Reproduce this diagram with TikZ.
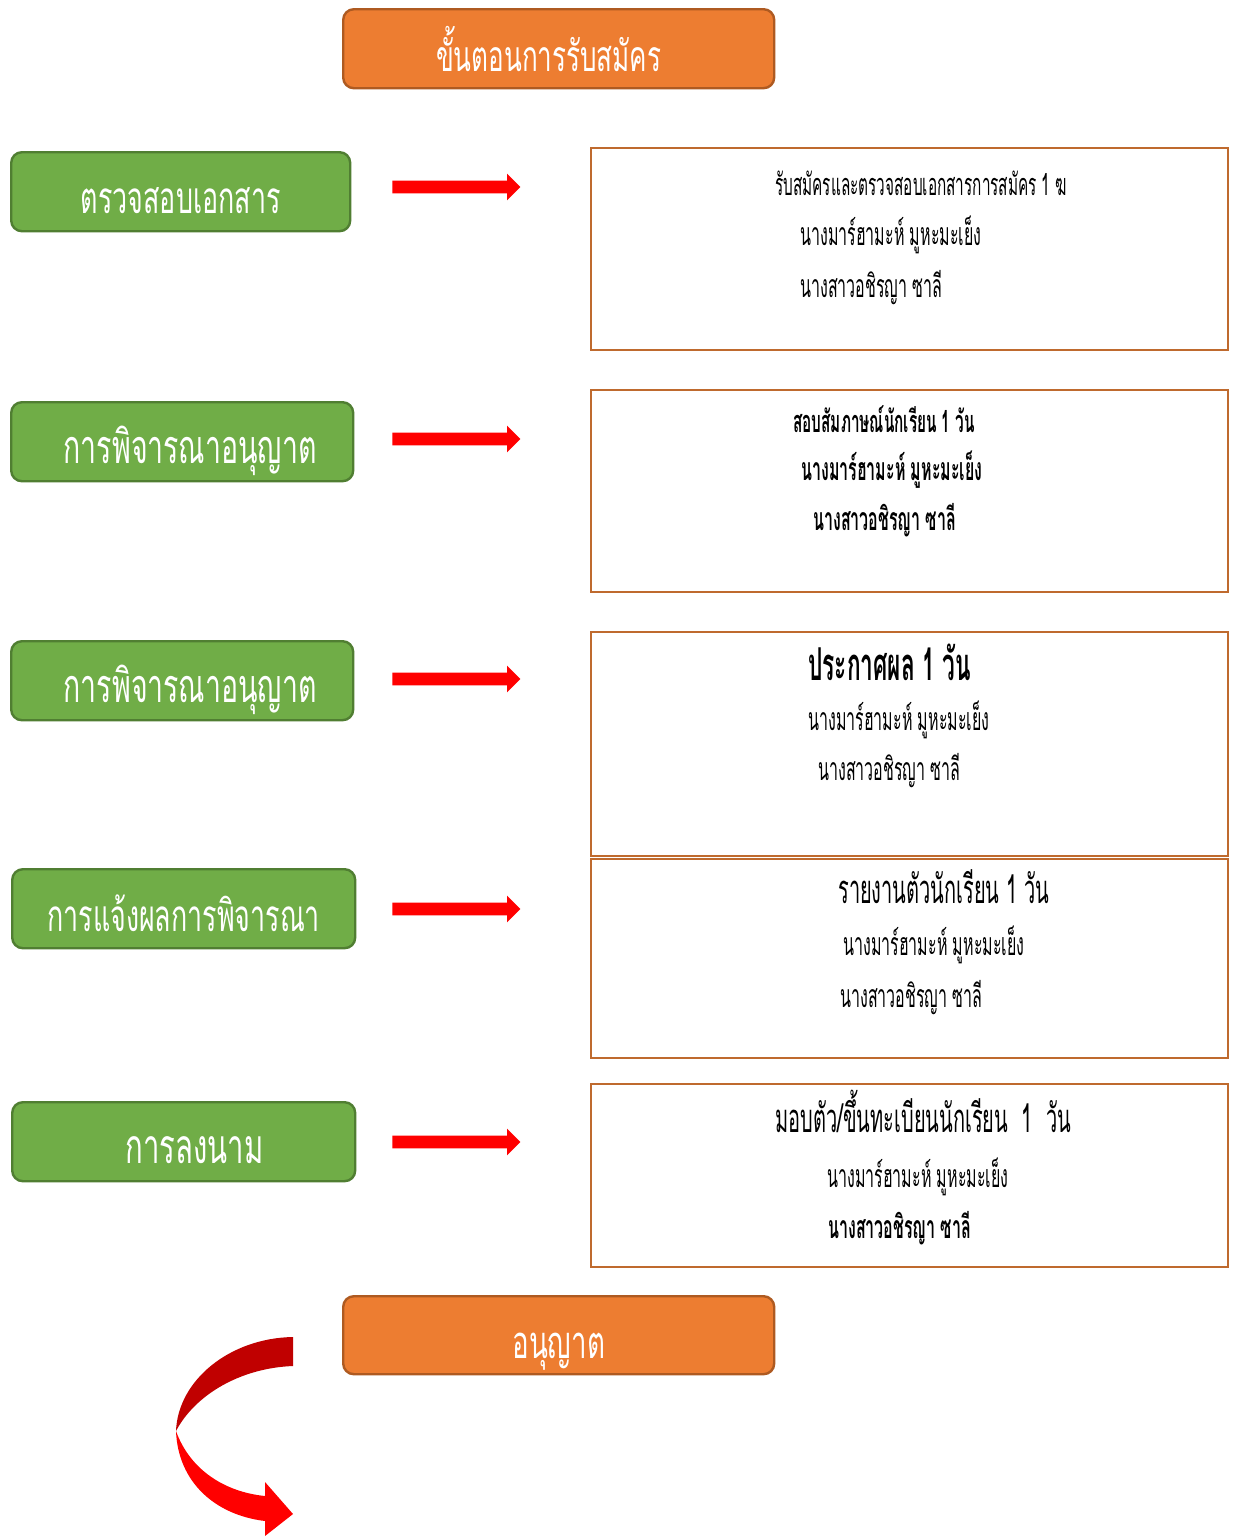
\documentclass[tikz,border=0pt]{standalone}
\usepackage{fontspec}
\newfontfamily\thai[Script=Thai,FakeStretch=0.61]{Loma}
\newfontfamily\thainarrow[Script=Thai,FakeStretch=0.5]{Loma}
\usetikzlibrary{shapes.arrows}
\definecolor{orgfill}{HTML}{ED7D31}
\definecolor{orgline}{HTML}{AE5A21}
\definecolor{grnfill}{HTML}{70AD47}
\definecolor{grnline}{HTML}{507E32}
\definecolor{boxline}{HTML}{BF6A2E}
\definecolor{darkred}{HTML}{C00000}
\definecolor{brightred}{HTML}{FF0000}
\tikzset{
  headbox/.style={draw=orgline, fill=orgfill, line width=1.8pt, rounded corners=8pt,
    inner sep=0pt, anchor=north west, text=white, font=\thai\fontsize{32}{32}\selectfont, minimum width=323.25pt},
  stagebox/.style={draw=grnline, fill=grnfill, line width=1.8pt, rounded corners=8pt,
    inner sep=0pt, anchor=north west, text=white, font=\thai\fontsize{33}{33}\selectfont},
  infobox/.style={draw=boxline, line width=1.6pt, inner sep=0pt, anchor=north west, minimum width=477.75pt},
  infotext/.style={anchor=base west, inner sep=0pt, font=\thainarrow\fontsize{24}{24}\selectfont},
  infobold/.style={infotext, font=\thainarrow\bfseries\fontsize{24}{24}\selectfont},
  flowarrow/.style={single arrow, fill=brightred, draw=none, inner sep=0pt, text height=4.5pt, text depth=4.5pt,
    minimum width=19.5pt, single arrow head extend=5.25pt, minimum height=96pt, anchor=west},
}
\begin{document}
\begin{tikzpicture}[x=0.75pt,y=-0.75pt]
\useasboundingbox[fill=white] (0,0) rectangle (1233,1536);
% title
\node[headbox, text height=46.5pt, text depth=12.75pt] (title) at (342,8) {ขั้นตอนการรับสมัคร\hspace*{15pt}};
% stage boxes
\node[stagebox, minimum width=254.25pt, text height=45.75pt, text depth=13.5pt] (s1) at (10,151) {ตรวจสอบเอกสาร};
\node[stagebox, minimum width=256.5pt, text height=45.75pt, text depth=13.5pt, font=\thai\fontsize{35}{35}\selectfont] (s2) at (10,401) {\hspace*{12pt}การพิจารณาอนุญาต};
\node[stagebox, minimum width=256.5pt, text height=45.75pt, text depth=13.5pt, font=\thai\fontsize{35}{35}\selectfont] (s3) at (10,640) {\hspace*{12pt}การพิจารณาอนุญาต};
\node[stagebox, minimum width=257.25pt, text height=46.5pt, text depth=12.75pt] (s4) at (11,868) {การแจ้งผลการพิจารณา};
\node[stagebox, minimum width=257.25pt, text height=45.75pt, text depth=13.5pt, font=\thai\fontsize{36}{36}\selectfont] (s5) at (11,1101) {\hspace*{16pt}การลงนาม};
% arrows
\node[flowarrow] (a1) at (392,187) {};
\node[flowarrow] (a2) at (392,439) {};
\node[flowarrow] (a3) at (392,679) {};
\node[flowarrow] (a4) at (392,909) {};
\node[flowarrow] (a5) at (392,1142) {};
% info boxes
\node[infobox, minimum height=151.5pt] (r1) at (590,147) {};
\node[infobox, minimum height=151.5pt] (r2) at (590,389) {};
\node[infobox, minimum height=168pt] (r3) at (590,631) {};
\node[infobox, minimum height=149.25pt] (r4) at (590,858) {};
\node[infobox, minimum height=137.25pt] (r5) at (590,1083) {};
% texts box 1
\node[infotext, font=\thainarrow\fontsize{23}{23}\selectfont] (t11) at (775,195) {รับสมัครและตรวจสอบเอกสารการสมัคร 1 ฆ};
\node[infotext] (t12) at (800,245) {นางมาร์ฮามะห์ มูหะมะเย็ง};
\node[infotext] (t13) at (800,297) {นางสาวอชิรญา ซาลี};
% box 2
\node[infobold, font=\thainarrow\bfseries\fontsize{23}{23}\selectfont] (t21) at (793,432) {สอบสัมภาษณ์นักเรียน 1 วัน};
\node[infobold] (t22) at (801,480) {นางมาร์ฮามะห์ มูหะมะเย็ง};
\node[infobold] (t23) at (813,530) {นางสาวอชิรญา ซาลี};
% box 3
\node[infobold, font=\thainarrow\bfseries\fontsize{34}{34}\selectfont] (t31) at (808,680) {ประกาศผล 1 วัน};
\node[infotext] (t32) at (808,730) {นางมาร์ฮามะห์ มูหะมะเย็ง};
\node[infotext] (t33) at (818,780) {นางสาวอชิรญา ซาลี};
% box 4
\node[infotext, font=\thainarrow\fontsize{30}{30}\selectfont] (t41) at (838,903) {รายงานตัวนักเรียน 1 วัน};
\node[infotext] (t42) at (843,955) {นางมาร์ฮามะห์ มูหะมะเย็ง};
\node[infotext] (t43) at (840,1007) {นางสาวอชิรญา ซาลี};
% box 5
\node[infotext, font=\thainarrow\fontsize{30}{30}\selectfont] (t51) at (775,1132) {มอบตัว/ขึ้นทะเบียนนักเรียน~ 1~ วัน};
\node[infotext] (t52) at (827,1187) {นางมาร์ฮามะห์ มูหะมะเย็ง};
\node[infobold] (t53) at (828,1238) {นางสาวอชิรญา ซาลี};
% final box
\node[headbox, text height=46.5pt, text depth=12pt, font=\thai\fontsize{34}{34}\selectfont] (fin) at (342,1295) {อนุญาต};
% curved arrow
\coordinate (cA) at (293,1337);
\coordinate (cB) at (293,1366);
\coordinate (cL) at (176,1431);
\fill[darkred] (cA) -- (cB) .. controls (240,1368) and (195,1395) .. (cL)
  .. controls (178,1380) and (230,1338) .. (cA) -- cycle;
\fill[brightred] (cL) .. controls (178,1482) and (215,1515) .. (265,1521)
  -- (265,1536) -- (293,1514) -- (265,1482) -- (265,1496)
  .. controls (225,1492) and (190,1470) .. (cL) -- cycle;
\end{tikzpicture}
\end{document}
